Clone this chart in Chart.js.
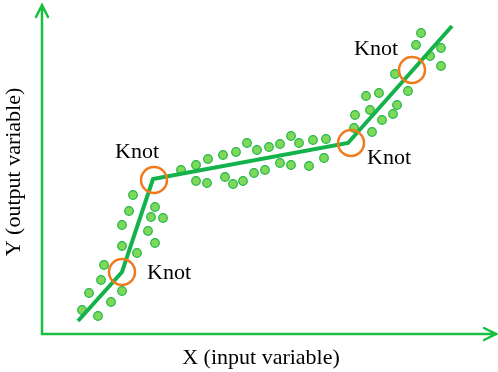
<!DOCTYPE html>
<html>
<head>
<meta charset="utf-8">
<script src="https://cdn.jsdelivr.net/npm/chart.js@4/dist/chart.umd.min.js"></script>
<style>
  html, body { margin: 0; padding: 0; background: #fff; }
  #wrap { width: 498px; height: 372px; }
</style>
</head>
<body>
<div id="wrap"><canvas id="chart"></canvas></div>
<script>
const pointsX = [91, 87, 113, 109, 121, 80, 106, 113, 80, 95, 62, 59, 80, 47, 69, 40, 56,
  139, 154, 166, 181, 194, 205, 215, 154, 165, 183, 191, 201, 212, 227, 238, 249, 257, 271, 284, 223, 238, 249, 267, 282,
  313, 312, 330, 340, 351, 355, 328, 324, 337, 366, 353, 399, 388, 399, 374, 379];
const pointsY = [139, 123, 127, 117, 116, 109, 103, 91, 88, 81, 69, 54, 43, 41, 32, 24, 18,
  164, 169, 175, 179, 182, 191, 184, 153, 151, 157, 150, 153, 161, 187, 190, 198, 191, 194, 195, 164, 171, 169, 168, 176,
  219, 206, 202, 214, 220, 229, 224, 238, 241, 243, 260, 268, 278, 286, 289, 301];

// fitted piecewise line
const fitX = [36, 80, 111, 306, 410];
const fitY = [13, 62, 155, 191, 308];

// knot positions
const knotX = [80, 112, 309, 370];
const knotY = [62, 154, 191, 264];
const knotLabels = ['Knot', 'Knot', 'Knot', 'Knot'];
const knotLabelDx = [47, -17, 38, -36];
const knotLabelDy = [1, -28, 15, -21];

const xTitle = 'X (input variable)';
const yTitle = 'Y (output variable)';

const axisGreen = '#19c040';
const serif = '"Liberation Serif", "DejaVu Serif", serif';

// draws arrowed axes, titles and knot labels
const decorPlugin = {
  id: 'decor',
  afterDraw(chart) {
    const ctx = chart.ctx;
    const xs = chart.scales.x;
    const ys = chart.scales.y;
    const ox = xs.getPixelForValue(0);
    const oy = ys.getPixelForValue(0);
    const ex = xs.getPixelForValue(xs.max);
    const ey = ys.getPixelForValue(ys.max);

    ctx.save();
    ctx.strokeStyle = axisGreen;
    ctx.lineWidth = 2.5;
    ctx.lineCap = 'round';
    ctx.beginPath();
    ctx.moveTo(ox, ey);
    ctx.lineTo(ox, oy);
    ctx.lineTo(ex, oy);
    // arrow heads
    ctx.moveTo(ox - 6, ey + 12);
    ctx.lineTo(ox, ey);
    ctx.lineTo(ox + 6, ey + 12);
    ctx.moveTo(ex - 12, oy - 6);
    ctx.lineTo(ex, oy);
    ctx.lineTo(ex - 12, oy + 6);
    ctx.stroke();

    ctx.fillStyle = '#000';
    ctx.font = '22px ' + serif;
    ctx.textAlign = 'center';
    ctx.textBaseline = 'middle';
    ctx.fillText(xTitle, 261, oy + 24);

    ctx.save();
    ctx.translate(ox - 28, 172);
    ctx.rotate(-Math.PI / 2);
    ctx.fillText(yTitle, 0, 0);
    ctx.restore();

    knotX.forEach((kx, i) => {
      const px = xs.getPixelForValue(kx) + knotLabelDx[i];
      const py = ys.getPixelForValue(knotY[i]) + knotLabelDy[i];
      ctx.fillText(knotLabels[i], px, py);
    });
    ctx.restore();
  }
};

new Chart(document.getElementById('chart'), {
  type: 'scatter',
  data: {
    datasets: [
      {
        type: 'line',
        data: fitX.map((x, i) => ({ x: x, y: fitY[i] })),
        borderColor: '#13b24a',
        borderWidth: 4,
        pointRadius: 0,
        tension: 0,
        order: 2
      },
      {
        data: pointsX.map((x, i) => ({ x: x, y: pointsY[i] })),
        backgroundColor: '#7dd957',
        borderColor: '#22b54a',
        borderWidth: 1.2,
        pointRadius: 4.3,
        order: 3
      },
      {
        data: knotX.map((x, i) => ({ x: x, y: knotY[i] })),
        backgroundColor: 'rgba(0,0,0,0)',
        borderColor: '#f07a1c',
        borderWidth: 2.5,
        pointRadius: 13,
        order: 1
      }
    ]
  },
  options: {
    responsive: true,
    maintainAspectRatio: false,
    animation: false,
    layout: { autoPadding: false, padding: { left: 42, right: 2, top: 5, bottom: 38 } },
    plugins: { legend: { display: false }, tooltip: { enabled: false } },
    scales: {
      x: { type: 'linear', min: 0, max: 454, display: false },
      y: { type: 'linear', min: 0, max: 329, display: false }
    }
  },
  plugins: [decorPlugin]
});
</script>
</body>
</html>
